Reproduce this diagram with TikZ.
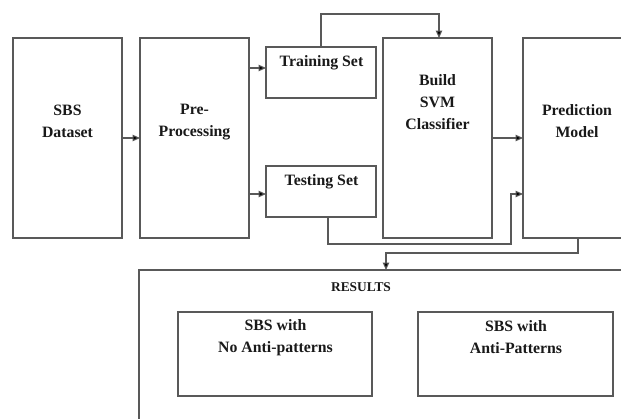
\documentclass[tikz,border=0pt]{standalone}
\usepackage{fontspec}
\setmainfont{Liberation Serif}[BoldFont={Liberation Serif Bold},ItalicFont={Liberation Serif Italic}]
\usetikzlibrary{arrows.meta,calc}
\begin{document}
\begin{tikzpicture}[x=1pt,y=-1pt,
  box/.style={draw=black!65,line width=1.1pt,inner sep=0pt,outer sep=0pt,rectangle},
  lbl/.style={font=\fontsize{15.8}{22}\selectfont\bfseries,align=center,inner sep=0pt,text=black!90},
  small/.style={font=\fontsize{13.4}{16}\selectfont\bfseries,inner sep=0pt,text=black!90},
  arr/.style={draw=black!65,line width=1.1pt,-{Triangle[length=7.5pt,width=6.5pt,fill=black]}}]
\clip (0,0) rectangle (621,418);
\fill[white] (0,0) rectangle (621,418);
% boxes
\node[box,minimum width=109pt,minimum height=200pt] (sbs) at (67.5,138) {};
\node[box,minimum width=109pt,minimum height=200pt] (pre) at (194.5,138) {};
\node[box,minimum width=110pt,minimum height=51pt] (train) at (321,72.5) {};
\node[box,minimum width=110pt,minimum height=51pt] (test) at (321,191.5) {};
\node[box,minimum width=109pt,minimum height=200pt] (svm) at (437.5,138) {};
\node[box,minimum width=109pt,minimum height=200pt] (pred) at (577.5,138) {};
\node[box,minimum width=501pt,minimum height=160pt] (res) at (389.5,350) {};
\node[box,minimum width=194pt,minimum height=84pt] (r1) at (275,354) {};
\node[box,minimum width=195pt,minimum height=84pt] (r2) at (515.5,354) {};
% texts
\node[lbl] (tsbs) at (67.5,121) {SBS\\Dataset};
\node[lbl] (tpre) at (194.5,122) {Pre-\\Processing};
\node[lbl] (ttrain) at (321.5,63) {Training Set};
\node[lbl] (ttest) at (321.5,182) {Testing Set};
\node[lbl] (tsvm) at (437.5,102) {Build\\SVM\\Classifier};
\node[lbl] (tpred) at (577,121) {Prediction\\Model};
\node[small] (tres) at (361,287) {RESULTS};
\node[lbl] (tr1) at (275.5,337.5) {SBS with\\No Anti-patterns};
\node[lbl] (tr2) at (516,337.5) {SBS with\\Anti-Patterns};
% connectors
\draw[arr] (sbs.east) -- (pre.west);
\draw[arr] (pre.east |- 0,68) -- (train.west |- 0,68);
\draw[arr] (pre.east |- 0,194) -- (test.west |- 0,194);
\draw[arr] (train.north) -- (train.north |- 0,14) -| ([xshift=1.5pt]svm.north);
\draw[arr] (svm.east) -- (pred.west);
\draw[arr] ([xshift=7pt]test.south) |- (511,244) |- (pred.west |- 0,194);
\draw[arr] ([xshift=0.5pt]pred.south) |- (386,253) -- (res.north -| 386,0);
\end{tikzpicture}
\end{document}
